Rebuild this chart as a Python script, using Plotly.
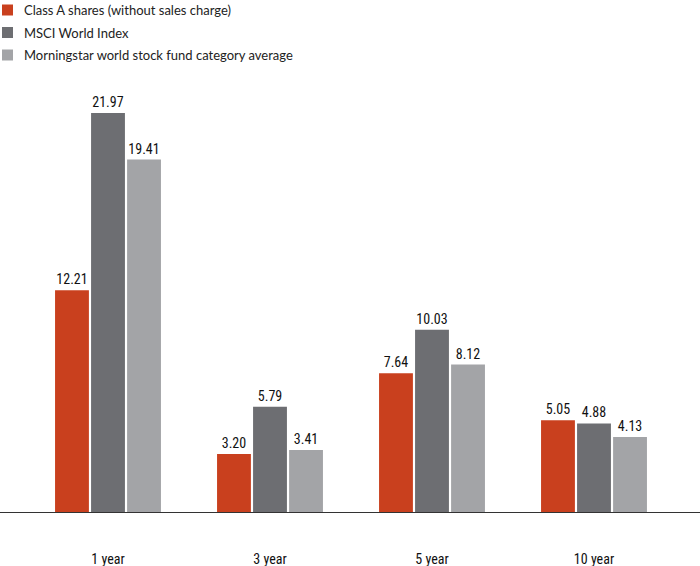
import plotly.graph_objects as go

categories = ["1 year", "3 year", "5 year", "10 year"]
series_names = ["Class A shares (without sales charge)", "MSCI World Index",
                "Morningstar world stock fund category average"]
class_a = [12.21, 3.20, 7.64, 5.05]
msci = [21.97, 5.79, 10.03, 4.88]
morningstar = [19.41, 3.41, 8.12, 4.13]
colors = ["#c9401e", "#6d6e72", "#a3a4a7"]

W, H = 700, 566
MB = 54
plot_h = H - MB
px_per_unit = 18.16
y_top = plot_h / px_per_unit

narrow = "Liberation Sans Narrow, Roboto Condensed, Roboto, sans-serif"
num_font = dict(family=narrow, size=14, color="#111")

fig = go.Figure()
for name, vals, c in zip(series_names, [class_a, msci, morningstar], colors):
    fig.add_trace(go.Bar(
        x=categories, y=vals, name=name, marker=dict(color=c, line=dict(width=0)),
        text=[f"{v:.2f}" for v in vals], textposition="outside",
        textfont=num_font, cliponaxis=False, showlegend=False,
    ))

# custom legend
leg_font = dict(family="Lato, Open Sans, sans-serif", size=13, color="#222")
for i, (name, c) in enumerate(zip(series_names, colors)):
    cy = 10 + i * 22.5
    y0 = (plot_h - (cy - 5.5)) / plot_h
    y1 = (plot_h - (cy + 5.5)) / plot_h
    fig.add_shape(type="rect", xref="paper", yref="paper",
                  x0=2 / W, x1=13 / W, y0=y1, y1=y0,
                  fillcolor=c, line=dict(width=0))
    fig.add_annotation(xref="paper", yref="paper", x=22 / W,
                       y=(plot_h - cy) / plot_h, text=name, showarrow=False,
                       xanchor="left", yanchor="middle", font=leg_font)

cat_px = 162
c0 = 108
fig.update_layout(
    width=W, height=H,
    margin=dict(l=0, r=0, t=0, b=MB),
    paper_bgcolor="white", plot_bgcolor="white",
    barmode="group", bargap=0.333, bargroupgap=0.06,
    xaxis=dict(range=[-c0 / cat_px, (W - c0) / cat_px], showline=True,
               linecolor="#333", linewidth=1, ticks="", showgrid=False,
               tickfont=dict(family=narrow, size=14, color="#111"),
               ticklabelstandoff=34),
    yaxis=dict(range=[0, y_top], visible=False, showgrid=False),
)

fig.write_html("out.html", config={"displayModeBar": False},
               post_script="document.body.style.margin='0';document.body.style.overflow='hidden';")
